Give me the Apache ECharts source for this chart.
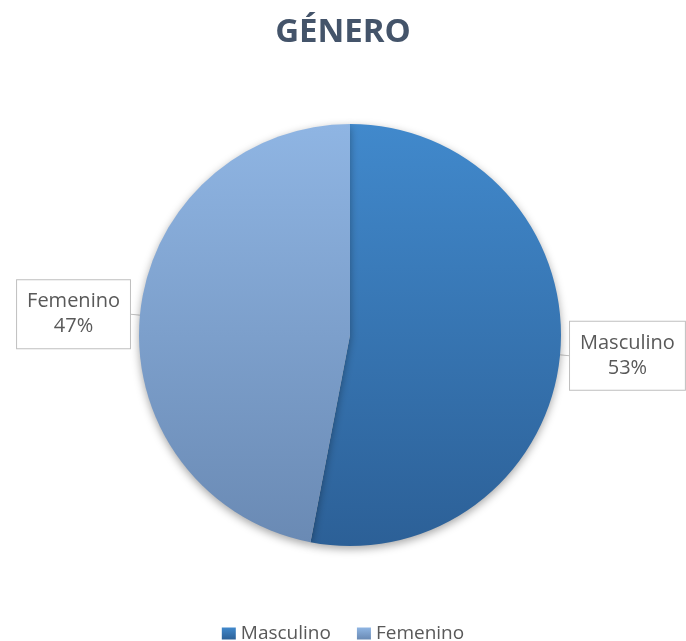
<!DOCTYPE html>
<html lang="es">
<head>
    <meta charset="utf-8">
    <title>Género</title>
    <style>
        * { margin: 0; padding: 0; }
        body { background: #fff; }
        #chart-container { width: 686px; height: 641px; }
    </style>
</head>
<body>
    <div id="chart-container"></div>
    <script src="https://cdn.jsdelivr.net/npm/echarts@6/dist/echarts.min.js"></script>
    <script>
        var categories = ['Masculino', 'Femenino'];
        var values = [53, 47];
        var topColors = ['#4189cc', '#8fb5e3'];
        var bottomColors = ['#2c6097', '#6a8ab4'];

        var myChart = echarts.init(document.getElementById('chart-container'), null, { renderer: 'canvas' });

        var pieData = categories.map(function (name, i) {
            return {
                name: name,
                value: values[i],
                itemStyle: {
                    color: new echarts.graphic.LinearGradient(0, 0, 0, 1, [
                        { offset: 0, color: topColors[i] },
                        { offset: 1, color: bottomColors[i] }
                    ])
                }
            };
        });

        var option = {
            animation: false,
            title: {
                text: 'GÉNERO',
                left: 'center',
                top: 11,
                textStyle: {
                    fontFamily: 'Open Sans',
                    fontSize: 33,
                    fontWeight: 'bold',
                    color: '#44546a'
                }
            },
            legend: {
                top: 619,
                left: 'center',
                icon: 'rect',
                itemWidth: 14,
                itemHeight: 12,
                itemGap: 26,
                textStyle: {
                    fontFamily: 'Open Sans',
                    fontSize: 19,
                    color: '#595959'
                },
                data: categories
            },
            series: [
                {
                    type: 'pie',
                    center: [350, 335],
                    radius: 211,
                    startAngle: 90,
                    clockwise: true,
                    avoidLabelOverlap: false,
                    itemStyle: {
                        shadowBlur: 8,
                        shadowOffsetY: 3,
                        shadowColor: 'rgba(0,0,0,0.35)'
                    },
                    label: {
                        position: 'outside',
                        formatter: '{t|{b}}\n{t|{d}%}',
                        backgroundColor: '#fff',
                        borderColor: '#bfbfbf',
                        borderWidth: 1,
                        padding: [9, 10, 9, 10],
                        distanceToLabelLine: 0,
                        rich: {
                            t: {
                                align: 'center',
                                fontFamily: 'Open Sans',
                                fontSize: 20,
                                lineHeight: 25,
                                color: '#595959'
                            }
                        }
                    },
                    labelLine: {
                        show: true,
                        length: 10,
                        length2: 0,
                        lineStyle: { color: '#bfbfbf', width: 1 }
                    },
                    data: pieData
                }
            ]
        };

        myChart.setOption(option);
        window.addEventListener('resize', myChart.resize);
    </script>
</body>
</html>
